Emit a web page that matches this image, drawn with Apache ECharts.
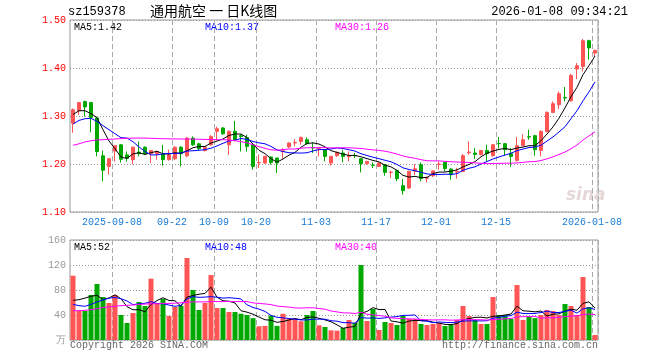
<!DOCTYPE html>
<html><head><meta charset="utf-8">
<script src="https://cdn.jsdelivr.net/npm/echarts@6/dist/echarts.min.js"></script>
<style>html,body{margin:0;padding:0;background:#fff}#c{width:660px;height:360px}</style>
</head><body><div id="c"></div>
<script>
const dates = [
'2025-08-28','2025-08-29',
'2025-09-01','2025-09-02','2025-09-03','2025-09-04','2025-09-05','2025-09-08','2025-09-09','2025-09-10','2025-09-11','2025-09-12',
'2025-09-15','2025-09-16','2025-09-17','2025-09-18','2025-09-19','2025-09-22','2025-09-23','2025-09-24','2025-09-25','2025-09-26',
'2025-09-29','2025-09-30',
'2025-10-09','2025-10-10','2025-10-13','2025-10-14','2025-10-15','2025-10-16','2025-10-17','2025-10-20','2025-10-21','2025-10-22',
'2025-10-23','2025-10-24','2025-10-27','2025-10-28','2025-10-29','2025-10-30','2025-10-31',
'2025-11-03','2025-11-04','2025-11-05','2025-11-06','2025-11-07','2025-11-10','2025-11-11','2025-11-12','2025-11-13','2025-11-14',
'2025-11-17','2025-11-18','2025-11-19','2025-11-20','2025-11-21','2025-11-24','2025-11-25','2025-11-26','2025-11-27','2025-11-28',
'2025-12-01','2025-12-02','2025-12-03','2025-12-04','2025-12-05','2025-12-08','2025-12-09','2025-12-10','2025-12-11','2025-12-12',
'2025-12-15','2025-12-16','2025-12-17','2025-12-18','2025-12-19','2025-12-22','2025-12-23','2025-12-24','2025-12-25','2025-12-26',
'2025-12-29','2025-12-30','2025-12-31',
'2026-01-05','2026-01-06','2026-01-07','2026-01-08'];

const openP = [1.285,1.311,1.330,1.328,1.296,1.217,1.195,1.227,1.240,1.219,
1.209,1.225,1.235,1.2215,1.2215,1.2215,1.209,1.211,1.235,1.217,
1.254,1.242,1.228,1.240,1.268,1.275,1.240,1.268,1.259,1.255,
1.240,1.2023,1.202,1.2146,1.2125,1.2263,1.2354,1.2438,1.2471,1.2506,
1.2342,1.231,1.2298,1.2021,1.2173,1.2229,1.215,1.2177,1.211,1.2013,
1.1975,1.195,1.1985,1.1821,1.186,1.1548,1.150,1.185,1.1985,1.1702,
1.1752,1.199,1.2033,1.1896,1.1833,1.1846,1.2235,1.2229,1.2194,1.2283,
1.2173,1.2429,1.2423,1.2215,1.2075,1.2381,1.2569,1.259,1.2283,1.2679,
1.3075,1.3235,1.3385,1.3319,1.3979,1.4033,1.4569,1.4313];
const closeP = [1.313,1.328,1.319,1.297,1.226,1.187,1.211,1.238,1.210,1.212,
1.235,1.2215,1.2215,1.228,1.226,1.209,1.219,1.235,1.2215,1.254,
1.240,1.232,1.235,1.2575,1.2735,1.263,1.268,1.2506,1.257,1.2367,
1.195,1.2033,1.216,1.2033,1.2021,1.2275,1.2438,1.245,1.2554,1.2423,
1.2333,1.2319,1.2158,1.2158,1.2242,1.2158,1.2173,1.2169,1.2006,1.2054,
1.1971,1.2021,1.1825,1.1829,1.1694,1.1444,1.1846,1.190,1.1694,1.171,
1.1856,1.200,1.1905,1.1777,1.1846,1.2173,1.225,1.220,1.2283,1.2215,
1.2402,1.2423,1.2298,1.2158,1.2381,1.2506,1.2563,1.2298,1.2679,1.3075,
1.3256,1.3465,1.3375,1.3846,1.4048,1.4569,1.4417,1.4367];
const lowP = [1.265,1.302,1.299,1.266,1.216,1.164,1.178,1.205,1.203,1.205,
1.199,1.216,1.219,1.202,1.209,1.1965,1.207,1.208,1.195,1.214,
1.238,1.229,1.226,1.238,1.249,1.261,1.219,1.248,1.226,1.226,
1.188,1.1917,1.200,1.1985,1.1813,1.211,1.233,1.2367,1.2402,1.241,
1.2229,1.2158,1.2054,1.1965,1.215,1.2033,1.2054,1.2125,1.1825,1.1985,
1.1917,1.194,1.1756,1.1708,1.1638,1.1361,1.148,1.177,1.1638,1.1617,
1.173,1.1881,1.1846,1.1673,1.1694,1.183,1.2194,1.2104,1.218,1.2054,
1.215,1.2325,1.2173,1.194,1.205,1.237,1.2506,1.2173,1.2158,1.266,
1.306,1.3146,1.3304,1.330,1.3771,1.3929,1.4173,1.4242];
const highP = [1.316,1.329,1.332,1.329,1.298,1.228,1.212,1.239,1.241,1.226,
1.236,1.247,1.237,1.229,1.228,1.240,1.230,1.237,1.237,1.256,
1.2575,1.244,1.237,1.260,1.278,1.277,1.270,1.290,1.262,1.261,
1.241,1.2194,1.217,1.216,1.213,1.2333,1.245,1.252,1.257,1.2554,
1.245,1.2333,1.231,1.217,1.226,1.2298,1.2263,1.2229,1.212,1.206,
1.2033,1.203,1.200,1.186,1.187,1.1688,1.186,1.200,1.2033,1.1742,
1.187,1.2054,1.205,1.191,1.192,1.2208,1.2471,1.2333,1.229,1.2402,
1.242,1.2563,1.243,1.2333,1.2563,1.262,1.2715,1.261,1.270,1.3096,
1.3304,1.3513,1.3604,1.3881,1.4104,1.4604,1.459,1.4381];
const volume = [102.9,46.4,46.4,72,89.6,68.8,59.2,72,40,27.2,
43.2,60.8,54.4,98.1,59.2,65.6,38.4,52.8,54.4,131.2,
80,48,59.2,104,51.2,51.2,44.8,44.8,42,40,
35,22,22.6,39,22.6,42,34,34,30,40,
46.4,23.5,20.8,15.5,14.9,19.2,32,27.2,120,30.4,
49.6,16,28.8,27.2,24,38.4,33.6,33.6,25.6,24,
25.6,27.2,22.4,24,32,54.4,38.4,32,25.6,25.6,
68.8,40,40,33.6,88,32,36.8,35,40,48,
46.4,40,57.6,54.4,40,100.8,52.8,8];

// moving-average values read at the left edge, before a full window exists
const ma5Head = [1.303,1.311,1.311,1.305];
const ma10Head = [1.2833,1.2908,1.2944,1.2951,1.2888,1.2798,1.2715,1.2631,1.2548];
const ma30Head = [1.239,1.242,1.246,1.2485,1.250,1.2506,1.2515,1.252,1.253,1.2535,1.254,1.254,1.254,1.2535,1.253,
1.2527,1.2525,1.2522,1.252,1.252,1.2518,1.2515,1.2512,1.251,1.2508,1.2506,1.250,1.2485,1.2465];
const vma5Head = [63.5,64.5,67,70];
const vma10Head = [57,55,54,57,61,64,67,68,66];
const vma30Head = [47,47,47.5,48.5,50,52,53,54,55,55.5,56,57,57.5,58,58,58.5,58.5,59,59.5,60.5,61,61,61,61.5,61.5,61.5,61.5,61.5,61.5];

const tickDates = ['2025-09-08','2025-09-22','2025-10-09','2025-10-20','2025-11-03','2025-11-17','2025-12-01','2025-12-15','2026-01-08'];
const tickLabels = ['2025-09-08','09-22','10-09','10-20','11-03','11-17','12-01','12-15','2026-01-08'];
const priceLegend = ['MA5:1.42','MA10:1.37','MA30:1.26'];
const volLegend = ['MA5:52','MA10:48','MA30:40'];

function movingAvg(src, n, head) {
  return src.map((v, i) => {
    if (i < n - 1) return head[i];
    let s = 0; for (let k = i - n + 1; k <= i; k++) s += src[k];
    return +(s / n).toFixed(4);
  });
}
const kData = dates.map((d, i) => [openP[i], closeP[i], lowP[i], highP[i]]);
const RED = '#ff5555', GREEN = '#00a800';
const tickSet = new Set(tickDates.map(d => dates.indexOf(d)));
const labelOf = {}; tickDates.forEach((d, k) => labelOf[d] = tickLabels[k]);
const MONO = 'Liberation Mono';

const chart = echarts.init(document.getElementById('c'), null, {renderer: 'canvas'});
const splitX = {show: true, interval: (i) => tickSet.has(i), lineStyle: {color: '#aaaaaa', type: [5, 3], width: 1}};
const lineS = (name, data, color, xi, yi) => ({
  name, type: 'line', data, xAxisIndex: xi, yAxisIndex: yi, symbol: 'none', silent: true,
  lineStyle: {color, width: 1}, z: 5
});
const legendColors = ['#000000', '#0000ff', '#ff00ff'];
const legendX = [74, 205, 335];
const graphics = [
  {type: 'text', left: 68, top: 6, style: {text: 'sz159378', font: '12px ' + MONO, fill: '#000'}},
  {type: 'text', left: 150, top: 4, style: {text: '通用航空 一 日K线图', font: '14px "Noto Sans CJK SC"', fill: '#000'}},
  {type: 'text', right: 32, top: 6, style: {text: '2026-01-08 09:34:21', font: '12px ' + MONO, fill: '#000'}},
  {type: 'text', left: 70, top: 340, style: {text: 'Copyright 2026 SINA.COM', font: '10px ' + MONO, fill: '#666'}},
  {type: 'text', right: 62, top: 340, style: {text: 'http://finance.sina.com.cn', font: '10px ' + MONO, fill: '#666'}},
  {type: 'text', left: 566, top: 187, style: {text: 'sina', font: 'italic bold 17px "DejaVu Sans"', fill: '#e6d8d8'}}
];
priceLegend.forEach((t, k) => graphics.push({type: 'text', left: legendX[k], top: 22, style: {text: t, font: '10px ' + MONO, fill: legendColors[k]}}));
volLegend.forEach((t, k) => graphics.push({type: 'text', left: legendX[k], top: 242, style: {text: t, font: '10px ' + MONO, fill: legendColors[k]}}));

chart.setOption({
  animation: false,
  backgroundColor: '#fff',
  textStyle: {fontFamily: MONO},
  grid: [
    {left: 70, top: 20, width: 528, height: 192, show: true, borderColor: '#999', borderWidth: 1, backgroundColor: 'transparent'},
    {left: 70, top: 240, width: 528, height: 100, show: true, borderColor: '#999', borderWidth: 1, backgroundColor: 'transparent'}
  ],
  xAxis: [
    {type: 'category', gridIndex: 0, data: dates, boundaryGap: true,
     axisLine: {show: false}, axisTick: {show: false},
     axisLabel: {interval: (i) => tickSet.has(i), margin: 5, formatter: (v) => '{a|' + labelOf[v] + '}',
       rich: {a: {padding: [0, 6, 0, 0], color: '#1a7bd4', fontSize: 10, fontFamily: MONO}}},
     splitLine: splitX},
    {type: 'category', gridIndex: 1, data: dates, boundaryGap: true,
     axisLine: {show: false}, axisTick: {show: false}, axisLabel: {show: false}, splitLine: splitX}
  ],
  yAxis: [
    {type: 'value', gridIndex: 0, min: 1.1, max: 1.5, interval: 0.1,
     axisLine: {show: false}, axisTick: {show: false},
     axisLabel: {color: '#ff0000', fontSize: 10, fontFamily: MONO, margin: 4, formatter: (v) => v.toFixed(2)},
     splitLine: {show: true, lineStyle: {color: '#999', type: [1, 2]}}},
    {type: 'value', gridIndex: 1, min: 0, max: 160, interval: 40,
     axisLine: {show: false}, axisTick: {show: false},
     axisLabel: {color: '#999', fontSize: 10, fontFamily: MONO, margin: 4, formatter: (v) => v === 0 ? '万' : String(v)},
     splitLine: {show: true, lineStyle: {color: '#999', type: [1, 2]}}}
  ],
  series: [
    {name: 'K', type: 'candlestick', data: kData, xAxisIndex: 0, yAxisIndex: 0, barWidth: 4, silent: true,
     itemStyle: {color: RED, color0: GREEN, borderColor: RED, borderColor0: GREEN, borderWidth: 1}},
    lineS('MA5', movingAvg(closeP, 5, ma5Head), '#000000', 0, 0),
    lineS('MA10', movingAvg(closeP, 10, ma10Head), '#0000ff', 0, 0),
    lineS('MA30', movingAvg(closeP, 30, ma30Head), '#ff00ff', 0, 0),
    {name: 'VOL', type: 'bar', data: volume, xAxisIndex: 1, yAxisIndex: 1, barWidth: 5, silent: true,
     itemStyle: {color: (p) => closeP[p.dataIndex] >= openP[p.dataIndex] ? RED : GREEN}},
    lineS('VMA5', movingAvg(volume, 5, vma5Head), '#000000', 1, 1),
    lineS('VMA10', movingAvg(volume, 10, vma10Head), '#0000ff', 1, 1),
    lineS('VMA30', movingAvg(volume, 30, vma30Head), '#ff00ff', 1, 1)
  ],
  graphic: graphics
});
</script>
</body></html>
